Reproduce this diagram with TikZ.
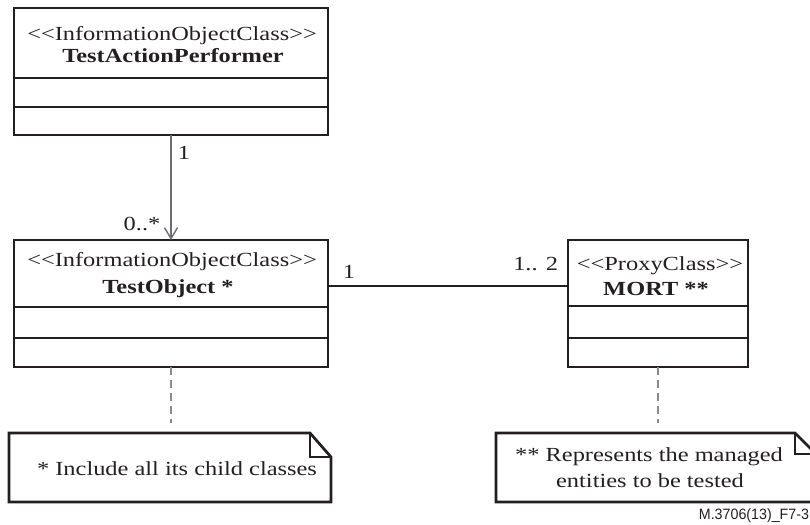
\documentclass[tikz,border=0pt]{standalone}
\usepackage{fontspec}
\setmainfont{Liberation Serif}[FakeStretch=1.22]
\newfontfamily\figlabelfont{Liberation Sans}[FakeStretch=0.95]
\usetikzlibrary{arrows.meta}
\definecolor{ink}{HTML}{231F20}
\definecolor{connector}{HTML}{6D6E71}
\definecolor{noteline}{HTML}{8A8B8D}
% guillemet-free stereotype brackets
\newcommand{\stopen}{\textless\kern0pt\textless}
\newcommand{\stclose}{\textgreater\kern0pt\textgreater}

\begin{document}
\begin{tikzpicture}[x=1pt,y=-1pt,
  every node/.style={text=ink,inner sep=0pt,outer sep=0pt},
  classbox/.style={draw=ink,line width=2.7pt,minimum height=127pt,anchor=north west},
  compart/.style={draw=ink,line width=2.7pt},
  stereo/.style={font=\fontsize{20}{22}\selectfont,anchor=base},
  cname/.style={font=\fontsize{20}{22}\selectfont\bfseries,anchor=base},
  mult/.style={font=\fontsize{20}{22}\selectfont,anchor=base},
  navarrow/.style={draw=connector,line width=1.4pt,-{Straight Barb[length=11pt,width=13pt,line width=1.4pt]}},
  assoc/.style={draw=ink,line width=2.7pt},
  anchorline/.style={draw=noteline,line width=1.5pt,dash pattern=on 8pt off 5pt},
  notebox/.style={minimum height=69pt,anchor=north west},
  noteoutline/.style={draw=ink,line width=2.7pt,line join=miter},
  notetext/.style={font=\fontsize{20}{22}\selectfont,anchor=base}
]
\useasboundingbox (0,0) rectangle (810,524);
\clip (0,0) rectangle (810,524);

% TestActionPerformer class
\node[classbox,minimum width=314pt] (tap) at (14,8) {};
\draw[compart] ([yshift=-70pt]tap.north west) -- ([yshift=-70pt]tap.north east);
\draw[compart] ([yshift=-99pt]tap.north west) -- ([yshift=-99pt]tap.north east);
\node[stereo] (tapst) at (172,41) {\stopen InformationObjectClass\stclose};
\node[cname] (tapnm) at (173,63) {TestActionPerformer};

% TestObject class
\node[classbox,minimum width=314pt] (tob) at (14,240) {};
\draw[compart] ([yshift=-67pt]tob.north west) -- ([yshift=-67pt]tob.north east);
\draw[compart] ([yshift=-98pt]tob.north west) -- ([yshift=-98pt]tob.north east);
\node[stereo] (tobst) at (172,266) {\stopen InformationObjectClass\stclose};
\node[cname] (tobnm) at (168,293) {TestObject *};

% MORT proxy class
\node[classbox,minimum width=180pt] (mort) at (568,240) {};
\draw[compart] ([yshift=-66pt]mort.north west) -- ([yshift=-66pt]mort.north east);
\draw[compart] ([yshift=-98pt]mort.north west) -- ([yshift=-98pt]mort.north east);
\node[stereo] (mortst) at (660,270) {\stopen ProxyClass\stclose};
\node[cname] (mortnm) at (656,295) {MORT **};

% navigable association TestActionPerformer -> TestObject
\draw[navarrow] (tap.south) -- (tob.north);
\node[mult] (m1) at (184,159) {1};
\node[mult] (m2) at (142,230) {0..*};

% association TestObject -- MORT
\draw[assoc] ([yshift=17.5pt]tob.east) -- ([yshift=17.5pt]tob.east -| mort.west);
\node[mult] (m3) at (349,278) {1};
\node[mult,anchor=base east] (m4) at (558,270) {1.. 2};

% notes
\node[notebox,minimum width=322pt] (n1) at (9,433) {};
\draw[noteoutline] (n1.north west) -- ([xshift=-21pt]n1.north east)
  -- ([yshift=-24pt]n1.north east) -- (n1.south east) -- (n1.south west) -- cycle;
\draw[noteoutline] ([xshift=-21pt]n1.north east) -- ([xshift=-21pt,yshift=-24pt]n1.north east)
  -- ([yshift=-24pt]n1.north east);
\node[notetext] (n1t) at (177,475) {* Include all its child classes};

\node[notebox,minimum width=320pt] (n2) at (496,433) {};
\draw[noteoutline] (n2.north west) -- ([xshift=-21pt]n2.north east)
  -- ([yshift=-21pt]n2.north east) -- (n2.south east) -- (n2.south west) -- cycle;
\draw[noteoutline] ([xshift=-21pt]n2.north east) -- ([xshift=-21pt,yshift=-21pt]n2.north east)
  -- ([yshift=-21pt]n2.north east);
\node[notetext] (n2ta) at (649,461) {** Represents the managed};
\node[notetext] (n2tb) at (650,487) {entities to be tested};

% note anchors
\draw[anchorline,shorten >=10pt] (tob.south) -- (tob.south |- n1.north);
\draw[anchorline,shorten >=10pt] (mort.south) -- (mort.south |- n2.north);

% figure reference
\node[font=\figlabelfont\fontsize{15}{17}\selectfont,anchor=base east] (ref) at (809,519) {M.3706(13)\_F7-3};
\end{tikzpicture}
\end{document}
